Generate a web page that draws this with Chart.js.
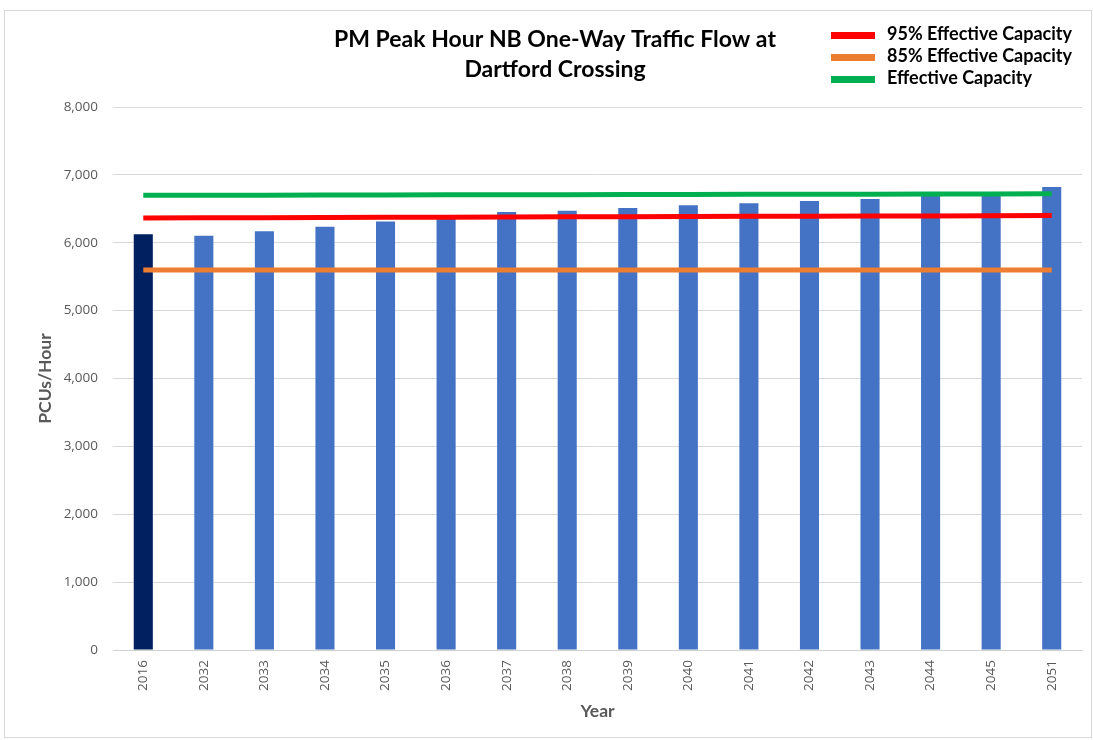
<!DOCTYPE html>
<html>
<head>
<meta charset="utf-8">
<script src="https://cdn.jsdelivr.net/npm/chart.js@4.4.1/dist/chart.umd.min.js"></script>
<style>
  body { margin: 0; background: #fff; }
  #wrap { width: 1093px; height: 740px; position: relative; }
</style>
</head>
<body>
<div id="wrap"><canvas id="graph"></canvas></div>
<script>
// data
const years = ['2016', '2032', '2033', '2034', '2035', '2036', '2037', '2038',
  '2039', '2040', '2041', '2042', '2043', '2044', '2045', '2051'];
const flow = [6127, 6102, 6171, 6234, 6312, 6385, 6454, 6473,
  6512, 6552, 6581, 6615, 6644, 6710, 6735, 6820];
const cap95 = [6366, 6368, 6370, 6373, 6375, 6377, 6380, 6382,
  6384, 6386, 6389, 6391, 6393, 6395, 6398, 6400];
const cap85 = [5600, 5600, 5600, 5600, 5600, 5600, 5600, 5600,
  5600, 5600, 5600, 5600, 5600, 5600, 5600, 5600];
const capFull = [6698, 6700, 6701, 6703, 6704, 6706, 6707, 6709,
  6710, 6712, 6713, 6715, 6716, 6718, 6719, 6721];
const yTicks = [0, 1000, 2000, 3000, 4000, 5000, 6000, 7000, 8000];
const titleLines = ['PM Peak Hour NB One-Way Traffic Flow at', 'Dartford Crossing'];

const graph = document.getElementById('graph');

// title, legend and outer frame drawn by hand (Excel style)
const decor = {
  id: 'decor',
  afterDraw(chart) {
    const ctx = chart.ctx;
    ctx.save();
    ctx.strokeStyle = '#d9d9d9';
    ctx.lineWidth = 1;
    ctx.strokeRect(4.5, 10.5, 1087, 727);

    ctx.fillStyle = '#000';
    ctx.font = 'bold 23px Lato';
    ctx.textAlign = 'center';
    ctx.textBaseline = 'middle';
    ctx.fillText(titleLines[0], 555, 40);
    ctx.fillText(titleLines[1], 555, 70);

    // legend: only the line series
    const lines = chart.data.datasets.filter(d => d.type === 'line');
    ctx.font = 'bold 18px Lato';
    ctx.textAlign = 'left';
    lines.forEach((d, i) => {
      const y = 35 + i * 22;
      ctx.fillStyle = d.borderColor;
      ctx.fillRect(831, y - 3, 44, 7);
      ctx.fillStyle = '#000';
      ctx.fillText(d.label, 887, y - 1);
    });
    ctx.restore();
  }
};

new Chart(graph, {
  data: {
    labels: years,
    datasets: [
      {
        type: 'line',
        label: '95% Effective Capacity',
        data: cap95,
        borderColor: '#ff0000',
        borderWidth: 5,
        pointRadius: 0,
        order: 0
      },
      {
        type: 'line',
        label: '85% Effective Capacity',
        data: cap85,
        borderColor: '#ed7d31',
        borderWidth: 5,
        pointRadius: 0,
        order: 0
      },
      {
        type: 'line',
        label: 'Effective Capacity',
        data: capFull,
        borderColor: '#00b050',
        borderWidth: 5,
        pointRadius: 0,
        order: 0
      },
      {
        type: 'bar',
        label: 'Flow',
        data: flow,
        backgroundColor: years.map((y, i) => i === 0 ? '#002060' : '#4472c4'),
        barPercentage: 0.315,
        categoryPercentage: 1,
        order: 1
      }
    ]
  },
  options: {
    responsive: true,
    maintainAspectRatio: false,
    animation: false,
    layout: { padding: { left: 8, right: 11, top: 107, bottom: 5 } },
    plugins: {
      legend: { display: false },
      title: { display: false },
      tooltip: { enabled: false }
    },
    scales: {
      x: {
        grid: { display: false, drawTicks: false },
        border: { display: true, color: '#d0d0d0' },
        ticks: {
          color: '#595959',
          font: { family: 'Open Sans', size: 13.5 },
          minRotation: 90,
          maxRotation: 90,
          padding: 10
        },
        title: {
          display: true,
          text: 'Year',
          color: '#595959',
          font: { family: 'Lato', size: 17.5, weight: 'bold' },
          padding: { top: 0, bottom: 13 }
        },
        afterFit: s => { s.height = 85; }
      },
      y: {
        min: 0,
        max: 8000,
        afterBuildTicks: s => { s.ticks = yTicks.map(v => ({ value: v })); },
        grid: { color: '#d9d9d9', drawTicks: false },
        border: { display: false },
        ticks: {
          color: '#595959',
          font: { family: 'Open Sans', size: 13.5 },
          padding: 15,
          callback: v => v.toLocaleString('en-US')
        },
        title: {
          display: true,
          text: 'PCUs/Hour',
          color: '#595959',
          font: { family: 'Lato', size: 17.5, weight: 'bold' },
          padding: { top: 27, bottom: 0 }
        },
        afterFit: s => { s.width = 105; }
      }
    }
  },
  plugins: [decor]
});
</script>
</body>
</html>
